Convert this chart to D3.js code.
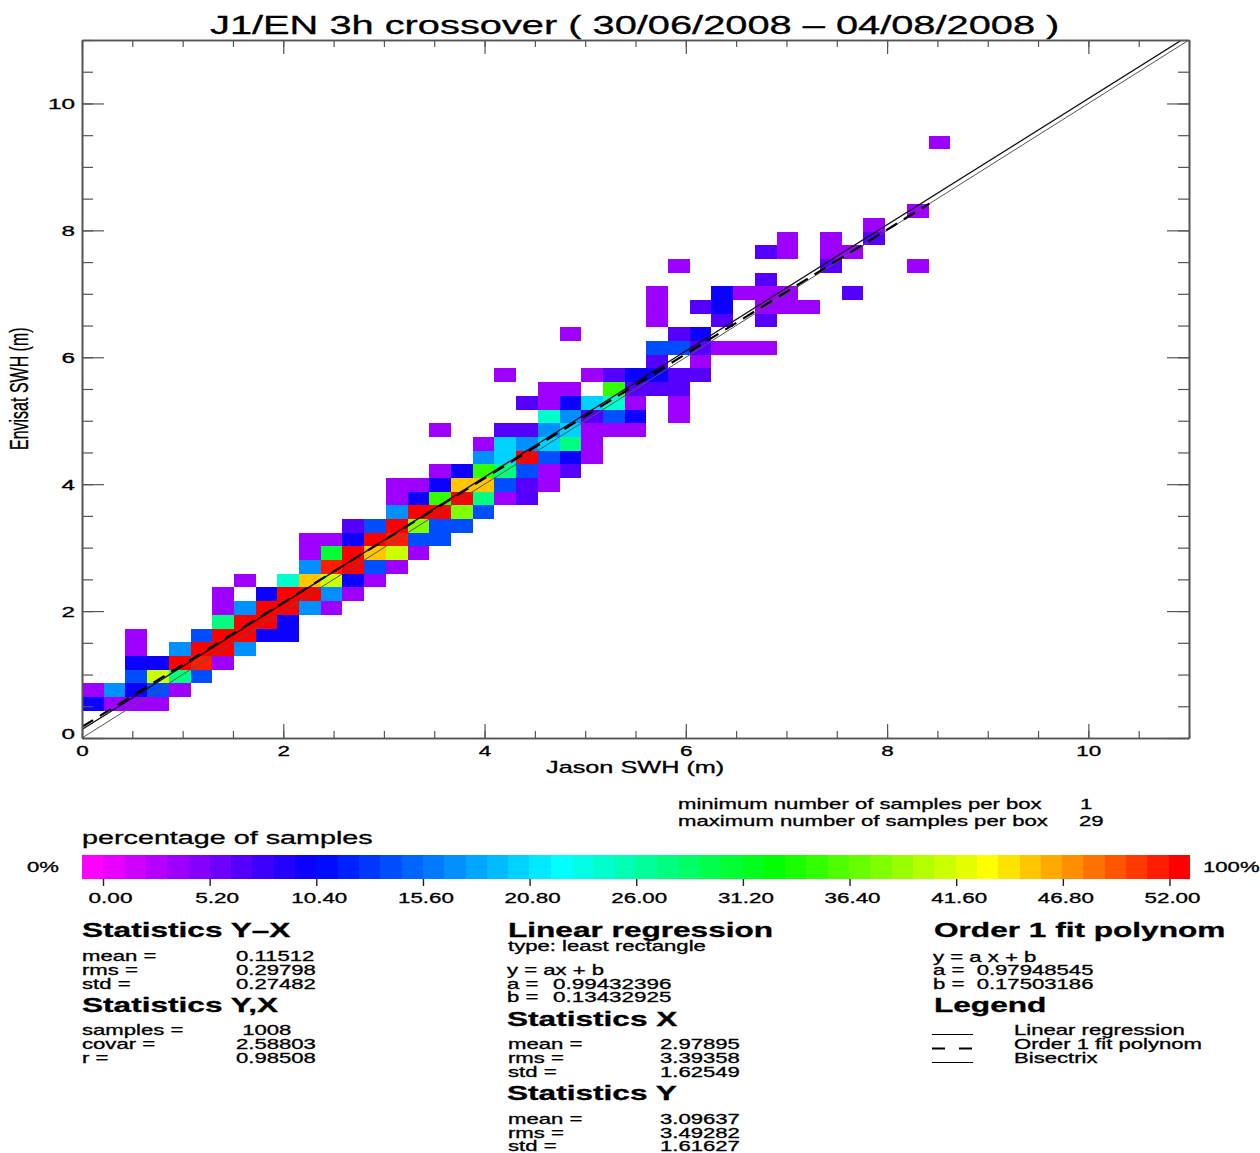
<!DOCTYPE html>
<html>

<head>
    <meta charset="utf-8">
    <title>J1/EN 3h crossover</title>
    <script src="https://d3js.org/d3.v7.min.js"></script>
    <style>
        html, body { margin: 0; background: #fff; }
        text { font-family: "Liberation Sans", Arial, sans-serif; fill: #000; }
        .tick text { font-family: "Liberation Sans", Arial, sans-serif; }
    </style>
</head>

<body>
    <svg id="chart" width="1260" height="1153"></svg>
    <script>
        // samples per box: one row per Envisat bin, [Jason bin, samples]
        const boxRows = [
            [],
            [],
            [[0, 3], [1, 1], [2, 1], [3, 1]],
            [[0, 1], [1, 5], [2, 3], [3, 4], [4, 1]],
            [[2, 4], [3, 12], [4, 8], [5, 4]],
            [[2, 3], [3, 3], [4, 16], [5, 15], [6, 1]],
            [[2, 1], [4, 5], [5, 16], [6, 16], [7, 5]],
            [[2, 1], [5, 4], [6, 16], [7, 16], [8, 3], [9, 3]],
            [[6, 8], [7, 16], [8, 16], [9, 3]],
            [[6, 1], [7, 5], [8, 16], [9, 16], [10, 5], [11, 1]],
            [[6, 1], [8, 3], [9, 16], [10, 16], [11, 5], [12, 1]],
            [[7, 1], [9, 7], [10, 13], [11, 12], [12, 3], [13, 1]],
            [[10, 5], [11, 15], [12, 16], [13, 4], [14, 1]],
            [[10, 1], [11, 9], [12, 16], [13, 13], [14, 12], [15, 1]],
            [[10, 1], [11, 1], [12, 3], [13, 16], [14, 15], [15, 4], [16, 4]],
            [[12, 2], [13, 4], [14, 16], [15, 11], [16, 4], [17, 4]],
            [[14, 5], [15, 16], [16, 16], [17, 11], [18, 4]],
            [[14, 1], [15, 3], [16, 10], [17, 16], [18, 8], [19, 1], [20, 2]],
            [[14, 1], [15, 1], [16, 3], [17, 13], [18, 13], [19, 4], [20, 2], [21, 1]],
            [[16, 1], [17, 3], [18, 10], [19, 8], [20, 4], [21, 1], [22, 2]],
            [[18, 5], [19, 6], [20, 16], [21, 4], [22, 3], [23, 1]],
            [[18, 1], [19, 6], [20, 5], [21, 6], [22, 8], [23, 1]],
            [[16, 1], [19, 2], [20, 2], [21, 5], [22, 6], [23, 1], [24, 1], [25, 1]],
            [[21, 7], [22, 5], [23, 2], [24, 4], [25, 3], [27, 1]],
            [[20, 2], [21, 1], [22, 3], [23, 6], [24, 7], [25, 1], [27, 1]],
            [[21, 1], [22, 1], [24, 10], [25, 2], [26, 2], [27, 2]],
            [[19, 1], [23, 1], [24, 2], [25, 3], [26, 3], [27, 2], [28, 2]],
            [[26, 2], [28, 1]],
            [[26, 4], [27, 4], [28, 2], [29, 1], [30, 1], [31, 1]],
            [[22, 1], [27, 2], [28, 3]],
            [[26, 1], [29, 2], [31, 2]],
            [[26, 1], [28, 2], [29, 3], [31, 1], [32, 1], [33, 1]],
            [[26, 1], [29, 3], [30, 1], [31, 1], [32, 1], [35, 2]],
            [[31, 2]],
            [[27, 1], [34, 2], [38, 1]],
            [[31, 2], [32, 1], [34, 1], [35, 1]],
            [[32, 1], [34, 1], [36, 2]],
            [[36, 1]],
            [[38, 1]],
            [],
            [],
            [],
            [],
            [[39, 1]]
        ];

        const binCount = 51;
        const swhMax = 11;
        const maxSamples = 29;
        const majorTicks = [0, 2, 4, 6, 8, 10];
        const minorTicks = d3.range(0, 11.01, 0.5);

        // fitted lines, y = a x + b
        const regression = { a: 0.99432396, b: 0.13432925, end: 11 };
        const polynom = { a: 0.97948545, b: 0.17503186, end: 8.42 };
        const bisectrix = { a: 1, b: 0, end: 11 };

        // colour bar
        const bandCount = 52;
        const bandKnots = [0, 10.5, 22, 32, 42, 51];
        const bandColors = ["#ff00ff", "#0000ff", "#00ffff", "#00ff00", "#ffff00", "#ff0000"];
        const barTicks = [0, 5.2, 10.4, 15.6, 20.8, 26, 31.2, 36.4, 41.6, 46.8, 52];

        // statistics blocks
        const statsYX = [["mean =", "0.11512"], ["rms =", "0.29798"], ["std =", "0.27482"]];
        const statsYandX = [["samples =", " 1008"], ["covar =", "2.58803"], ["r =", "0.98508"]];
        const statsX = [["mean =", "2.97895"], ["rms =", "3.39358"], ["std =", "1.62549"]];
        const statsY = [["mean =", "3.09637"], ["rms =", "3.49282"], ["std =", "1.61627"]];

        const svg = d3.select("#chart");
        const stretch = 1.58; // the whole picture is wider than it is tall

        const x = d3.scaleLinear().domain([0, swhMax]).range([82, 1189]);
        const y = d3.scaleLinear().domain([0, swhMax]).range([738, 40]);
        const bin = swhMax / binCount;

        const barX = d3.scaleLinear().domain([0, 52]).range([103, 1169.5]);
        const bandWidth = (1190 - 82) / bandCount;
        const bandColor = d3.scaleLinear().domain(bandKnots).range(bandColors).clamp(true);

        function samplesColor(n) {
            const pct = Math.min(52, n / maxSamples * 100);
            return bandColor(Math.floor((barX(pct) - 82) / bandWidth));
        }

        function label(str, px, py, size, weight) {
            return svg.append("text")
                .attr("transform", `translate(${px},${py}) scale(${stretch},1)`)
                .attr("font-size", size)
                .attr("font-weight", weight || "normal")
                .attr("xml:space", "preserve")
                .style("white-space", "pre")
                .attr("stroke", "#000")
                .attr("stroke-width", 0.3)
                .text(str);
        }

        // boxes
        const plot = svg.append("g").attr("shape-rendering", "crispEdges");
        boxRows.forEach(function (row, r) {
            plot.selectAll(null)
                .data(row)
                .join("rect")
                .attr("x", d => x(d[0] * bin))
                .attr("y", y((r + 1) * bin))
                .attr("width", d => x((d[0] + 1) * bin) - x(d[0] * bin))
                .attr("height", y(r * bin) - y((r + 1) * bin))
                .attr("fill", d => samplesColor(d[1]));
        });

        // lines
        svg.append("clipPath").attr("id", "plotArea").append("rect")
            .attr("x", 82).attr("y", 40).attr("width", 1107).attr("height", 698);
        function fitLine(fit, width, dash, colour) {
            const path = svg.append("path")
                .attr("clip-path", "url(#plotArea)")
                .attr("fill", "none")
                .attr("stroke", colour)
                .attr("stroke-width", width)
                .attr("d", d3.line().x(d => x(d)).y(d => y(fit.a * d + fit.b))([0, fit.end]));
            if (dash) path.attr("stroke-dasharray", dash);
        }
        fitLine(bisectrix, 1, null, "#555");
        fitLine(regression, 1.3, null, "#111");
        fitLine(polynom, 2.2, "13,8", "#000");

        // axes: ticks point inward on all four sides
        function styleAxis(g) {
            g.selectAll(".domain").attr("stroke", "#555").attr("stroke-width", 1.6);
            g.selectAll(".tick line").attr("stroke", "#555").attr("stroke-width", 1.2);
        }
        const sides = [
            [d3.axisBottom(x), 0, 738, 7, 14],
            [d3.axisTop(x), 0, 40, 7, 14],
            [d3.axisLeft(y), 82, 0, 11, 22],
            [d3.axisRight(y), 1189, 0, 11, 22]
        ];
        sides.forEach(function (s) {
            const make = () => s[0].tickSizeOuter(0).tickFormat("");
            svg.append("g").attr("transform", `translate(${s[1]},${s[2]})`)
                .call(make().tickValues(minorTicks).tickSizeInner(-s[3])).call(styleAxis);
            svg.append("g").attr("transform", `translate(${s[1]},${s[2]})`)
                .call(make().tickValues(majorTicks).tickSizeInner(-s[4])).call(styleAxis);
        });

        const bottomLabels = svg.append("g").attr("transform", "translate(0,738)")
            .call(d3.axisBottom(x).tickValues(majorTicks).tickSize(0).tickFormat(d3.format("d")));
        bottomLabels.select(".domain").remove();
        bottomLabels.selectAll("text")
            .attr("y", 18).attr("dy", 0)
            .attr("font-size", 14)
            .attr("stroke", "#000").attr("stroke-width", 0.3)
            .attr("textLength", d => d >= 10 ? 25 : 12.5)
            .attr("lengthAdjust", "spacingAndGlyphs");

        const leftLabels = svg.append("g").attr("transform", "translate(82,0)")
            .call(d3.axisLeft(y).tickValues(majorTicks).tickSize(0).tickFormat(d3.format("d")));
        leftLabels.select(".domain").remove();
        leftLabels.selectAll("text")
            .attr("x", -7).attr("dy", d => d === 0 ? 0 : 5)
            .attr("font-size", 14)
            .attr("stroke", "#000").attr("stroke-width", 0.3)
            .attr("textLength", d => d >= 10 ? 27 : 13.5)
            .attr("lengthAdjust", "spacingAndGlyphs");

        label("J1/EN 3h crossover ( 30/06/2008 \u2013 04/08/2008 )", 210, 34, 25.2);
        label("Jason SWH (m)", 546, 773, 16);
        svg.append("text")
            .attr("transform", `translate(28,450) scale(${stretch},1) rotate(-90)`)
            .attr("font-size", 16)
            .attr("stroke", "#000").attr("stroke-width", 0.2)
            .text("Envisat SWH (m)");

        // colour bar
        label("minimum number of samples per box", 678, 809, 14);
        label("1", 1080, 809, 14);
        label("maximum number of samples per box", 678, 826, 14);
        label("29", 1079, 826, 14);
        label("percentage of samples", 82, 844, 18.2);
        label("0%", 27, 872, 14);
        label("100%", 1203, 872, 14);

        svg.append("g").attr("shape-rendering", "crispEdges").selectAll("rect")
            .data(d3.range(bandCount))
            .join("rect")
            .attr("x", d => 82 + d * bandWidth)
            .attr("y", 855)
            .attr("width", bandWidth)
            .attr("height", 24)
            .attr("fill", d => bandColor(d));

        const barAxis = svg.append("g").attr("transform", "translate(0,879)")
            .call(d3.axisBottom(barX).tickValues(barTicks).tickSize(7).tickSizeOuter(0).tickFormat(d3.format(".2f")));
        barAxis.select(".domain").remove();
        barAxis.selectAll(".tick line").attr("stroke", "#222").attr("stroke-width", 1.4);
        barAxis.selectAll("text")
            .attr("x", d => d >= 10 ? 2.5 : 7).attr("y", 24).attr("dy", 0)
            .attr("font-size", 14)
            .attr("stroke", "#000").attr("stroke-width", 0.3)
            .attr("textLength", d => d >= 10 ? 56 : 44)
            .attr("lengthAdjust", "spacingAndGlyphs");

        // statistics
        function statLines(rows, px, valueX, first, step) {
            rows.forEach(function (row, i) {
                label(row[0], px, first + i * step, 14);
                label(row[1], valueX, first + i * step, 14);
            });
        }
        label("Statistics Y\u2013X", 82, 937, 20, "bold");
        statLines(statsYX, 82, 236, 961, 14);
        label("Statistics Y,X", 82, 1012, 20, "bold");
        statLines(statsYandX, 82, 236, 1035, 14);

        label("Linear regression", 508, 937, 20, "bold");
        label("type: least rectangle", 508, 951, 14);
        label("y = ax + b", 507, 975, 14);
        label("a =", 507, 989, 14);
        label("0.99432396", 553, 989, 14.2);
        label("b =", 507, 1002, 14);
        label("0.13432925", 553, 1002, 14.2);
        label("Statistics X", 507, 1026, 20, "bold");
        statLines(statsX, 508, 660, 1049, 14);
        label("Statistics Y", 507, 1100, 20, "bold");
        statLines(statsY, 508, 660, 1124, 13.5);

        label("Order 1 fit polynom", 934, 937, 20, "bold");
        label("y = a x + b", 933, 962, 14);
        label("a =  0.97948545", 933, 975, 14);
        label("b =  0.17503186", 933, 989, 14);
        label("Legend", 934, 1012, 20, "bold");
        label("Linear regression", 1014, 1035, 14);
        label("Order 1 fit polynom", 1014, 1049, 14);
        label("Bisectrix", 1014, 1063, 14);

        function legendLine(py, width, dash) {
            const l = svg.append("line")
                .attr("x1", 932).attr("x2", 973).attr("y1", py).attr("y2", py)
                .attr("stroke", "#000").attr("stroke-width", width);
            if (dash) l.attr("stroke-dasharray", dash);
        }
        legendLine(1034.5, 1.2);
        legendLine(1048.5, 2.2, "13,14");
        legendLine(1062.5, 1);
    </script>
</body>

</html>
